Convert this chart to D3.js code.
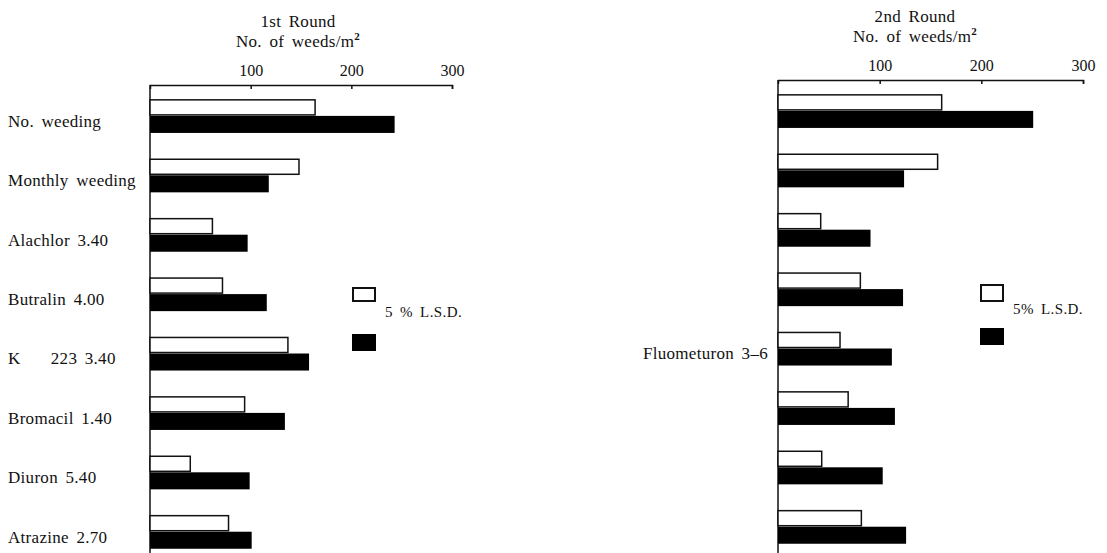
<!DOCTYPE html>
<html>
<head>
<meta charset="utf-8">
<script src="https://cdn.jsdelivr.net/npm/d3@7"></script>
<style>
    body { margin: 0; background: #fff; }
    text { font-family: "Liberation Serif", "DejaVu Serif", serif; fill: #111; }
</style>
</head>
<body>
<div class="chart"></div>
<script>
"use strict";

// Data (weeds per m2)
var treatments = ["No. weeding", "Monthly weeding", "Alachlor 3.40", "Butralin 4.00",
    "K    223 3.40", "Bromacil 1.40", "Diuron 5.40", "Atrazine 2.70"]
var round2Labels = ["", "", "", "", "Fluometuron 3\u20136", "", "", ""]
var round1White = [164, 148, 62, 72, 137, 94, 40, 78]
var round1Black = [243, 118, 97, 116, 158, 134, 99, 101]
var round2White = [161, 157, 42, 81, 61, 69, 43, 82]
var round2Black = [251, 124, 91, 123, 112, 115, 103, 126]
var tickValues = [100, 200, 300]
var legendText = ["5 % L.S.D.", "5% L.S.D."]

var width = 1107
var height = 553

var svg = d3.select('div.chart').append('svg')
    .attr('width', width)
    .attr('height', height)

// Draws one round: axis on top, paired bars per treatment, legend
function createPanel(opts) {
    var x = d3.scaleLinear()
        .domain([0, 300])
        .range([opts.x0, opts.x1])

    var y = d3.scaleBand()
        .domain(d3.range(treatments.length))
        .range([opts.axisY, opts.axisY + treatments.length * 59.7])
        .paddingInner(0.46)
        .paddingOuter(0.25)

    var sub = d3.scaleBand()
        .domain(['white', 'black'])
        .range([0, y.bandwidth()])

    var g = svg.append('g')

    // Titles
    g.append('text')
        .attr('x', opts.titleX)
        .attr('y', opts.axisY - 58)
        .attr('text-anchor', 'middle')
        .attr('font-size', 17)
        .attr('letter-spacing', 0.3)
        .attr('word-spacing', 3)
        .text(opts.title)

    var unit = g.append('text')
        .attr('x', opts.titleX)
        .attr('y', opts.axisY - 38)
        .attr('text-anchor', 'middle')
        .attr('font-size', 17)
        .attr('letter-spacing', 0.3)
        .attr('word-spacing', 3)
    unit.append('tspan').text('No. of weeds/m')
    unit.append('tspan').attr('dy', -7).attr('font-size', 11).attr('font-weight', 'bold').text('2')

    // Top axis, ticks pointing down
    var axis = g.append('g')
        .attr('transform', 'translate(0,' + opts.axisY + ')')
        .call(d3.axisTop(x).tickValues(tickValues).tickSizeInner(-4).tickSizeOuter(-4).tickPadding(9))
    axis.select('.domain').attr('stroke', '#111').attr('stroke-width', 1.5)
    axis.selectAll('.tick line').attr('stroke', '#111').attr('stroke-width', 1.5)
    axis.selectAll('.tick text')
        .attr('font-family', '"Liberation Serif", serif')
        .attr('font-size', 16)
        .attr('fill', '#111')

    // Vertical axis line
    g.append('line')
        .attr('x1', x(0)).attr('x2', x(0))
        .attr('y1', opts.axisY).attr('y2', height)
        .attr('stroke', '#111')
        .attr('stroke-width', 1.5)

    // Bars
    g.selectAll('rect.white')
        .data(opts.white)
        .enter()
        .append('rect')
        .attr('class', 'white')
        .attr('x', x(0))
        .attr('y', (d, i) => y(i) + sub('white'))
        .attr('width', d => x(d) - x(0))
        .attr('height', sub.bandwidth() - 1)
        .attr('fill', '#fff')
        .attr('stroke', '#111')
        .attr('stroke-width', 1.5)

    g.selectAll('rect.black')
        .data(opts.black)
        .enter()
        .append('rect')
        .attr('class', 'black')
        .attr('x', x(0))
        .attr('y', (d, i) => y(i) + sub('black'))
        .attr('width', d => x(d) - x(0))
        .attr('height', sub.bandwidth() + 1)
        .attr('fill', '#000')

    // Treatment labels
    g.selectAll('text.label')
        .data(opts.labels)
        .enter()
        .append('text')
        .attr('class', 'label')
        .attr('x', opts.labelX)
        .attr('y', (d, i) => y(i) + 27)
        .attr('text-anchor', opts.labelAnchor)
        .attr('font-size', 17)
        .attr('letter-spacing', 0.3)
        .attr('word-spacing', 3)
        .style('white-space', 'pre')
        .text(d => d)

    // Legend boxes and text
    var lg = g.append('g')
        .attr('transform', 'translate(' + opts.legendX + ',' + opts.legendY + ')')
    lg.append('rect')
        .attr('x', 0).attr('y', 0)
        .attr('width', 22).attr('height', opts.boxH)
        .attr('fill', '#fff')
        .attr('stroke', '#111')
        .attr('stroke-width', 2)
    lg.append('rect')
        .attr('x', -1).attr('y', opts.boxGap)
        .attr('width', 24).attr('height', 17)
        .attr('fill', '#000')
    lg.append('text')
        .attr('x', opts.legendTextDx)
        .attr('y', 29)
        .attr('font-size', 15)
        .attr('letter-spacing', 0.4)
        .attr('word-spacing', 3)
        .text(opts.legend)
}

createPanel({
    x0: 150, x1: 452, axisY: 85, titleX: 298,
    title: '1st Round',
    white: round1White, black: round1Black,
    labels: treatments, labelX: 8, labelAnchor: 'start',
    legendX: 353, legendY: 288, boxH: 13, boxGap: 46, legendTextDx: 32,
    legend: legendText[0]
})

createPanel({
    x0: 778, x1: 1083, axisY: 80, titleX: 915,
    title: '2nd Round',
    white: round2White, black: round2Black,
    labels: round2Labels, labelX: 768, labelAnchor: 'end',
    legendX: 981, legendY: 285, boxH: 16, boxGap: 43, legendTextDx: 32,
    legend: legendText[1]
})
</script>
</body>
</html>
